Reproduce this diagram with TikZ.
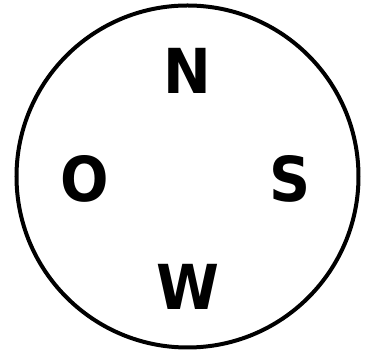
\documentclass[tikz,border=0pt]{standalone}
\usepackage{fontspec}
\setmainfont{DejaVu Sans}[BoldFeatures={FakeStretch=0.92}]
\usepackage{tikz}

\begin{document}
\begin{tikzpicture}[
    x=1pt, y=1pt,
    ring/.style={draw, line width=4pt},
    dirlabel/.style={font=\fontsize{62}{62}\selectfont\bfseries, inner sep=0pt, anchor=center}
]
\useasboundingbox (0,0) rectangle (368,350);
\draw[ring] (187.5,173.5) circle (171);
\node[dirlabel] (north) at (187.5,279.5) {N};
\node[dirlabel] (west) at (85,171.5) {O};
\node[dirlabel] (east) at (290,171.5) {S};
\node[dirlabel] (south) at (187.5,63.5) {W};
\end{tikzpicture}
\end{document}
